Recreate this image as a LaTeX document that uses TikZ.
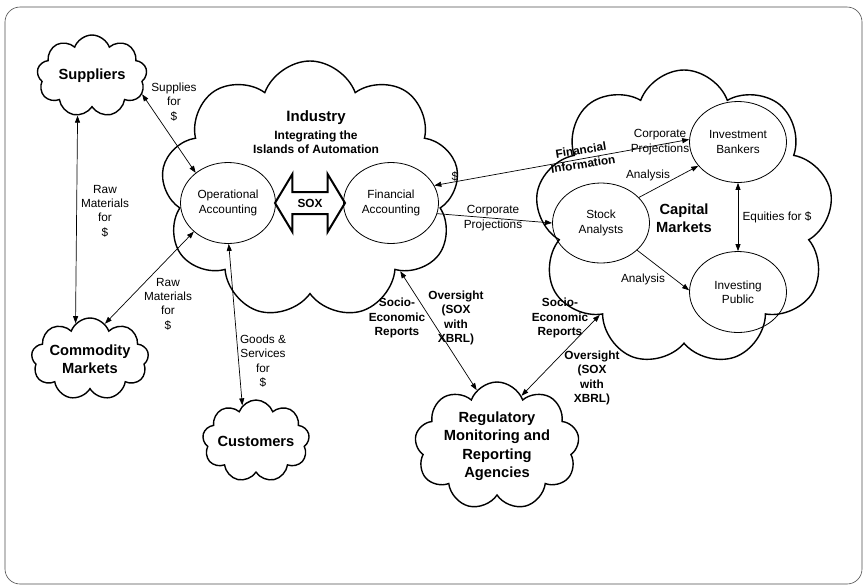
\documentclass[tikz,border=0pt]{standalone}
\usepackage{fontspec}
\setmainfont{Liberation Sans}
\usetikzlibrary{shapes.symbols,shapes.geometric,shapes.arrows,arrows.meta}

\begin{document}
\begin{tikzpicture}[x=1pt,y=-1pt,<->,>={Triangle[length=7pt,width=5pt]},line width=0.7pt,
    cloud node/.style={cloud,draw,line width=1.4pt,cloud puffs=9,cloud puff arc=140,cloud ignores aspect,align=center,inner sep=0pt,font=\bfseries\fontsize{14.7}{18.5}\selectfont},
    unit node/.style={ellipse,draw,line width=0.8pt,inner sep=0pt,align=center,font=\fontsize{11.8}{14.4}\selectfont},
    lbl/.style={align=center,inner sep=0pt,font=\fontsize{11.8}{14.4}\selectfont},
    blbl/.style={align=center,inner sep=0pt,font=\bfseries\fontsize{11.8}{14.4}\selectfont}]

    \useasboundingbox (0,0) rectangle (866,587);
    \draw[-,black!70,line width=0.6pt,rounded corners=15pt] (5,7) rectangle (862,584);

    % clouds
    \node[cloud node,minimum width=110pt,minimum height=82pt] (sup) at (92,76) {Suppliers};
    \node[cloud node,minimum width=115pt,minimum height=82pt] (com) at (90,359) {Commodity\\Markets};
    \node[cloud node,minimum width=107pt,minimum height=82pt] (cust) at (256,441) {Customers};
    \node[cloud node,minimum width=161pt,minimum height=126pt] (reg) at (497,446) {Regulatory\\Monitoring and\\Reporting\\Agencies};
    \node[cloud node,minimum width=298pt,minimum height=258pt] (ind) at (310,190) {};
    \node[cloud node,minimum width=298pt,minimum height=296pt] (cap) at (684,218) {Capital\\Markets};

    \node[font=\bfseries\fontsize{15}{18}\selectfont] (indtitle) at (316,118) {Industry};
    \node[blbl,font=\bfseries\fontsize{12}{14}\selectfont] (indsub) at (316,142) {Integrating the\\Islands of Automation};

    % units inside the clouds
    \node[unit node,minimum width=95pt,minimum height=81pt] (oa) at (228,203) {Operational\\Accounting};
    \node[unit node,minimum width=95pt,minimum height=81pt] (fa) at (391,203) {Financial\\Accounting};
    \node[unit node,minimum width=97pt,minimum height=80pt] (sa) at (601,223) {Stock\\Analysts};
    \node[unit node,minimum width=97pt,minimum height=81pt] (ib) at (738,142) {Investment\\Bankers};
    \node[unit node,minimum width=97pt,minimum height=81pt] (ip) at (738,292) {Investing\\Public};

    \node[double arrow,draw,line width=2pt,minimum height=70pt,double arrow head extend=18pt,
          double arrow tip angle=118,inner xsep=2pt,inner ysep=6pt,text height=8pt,text depth=0pt,
          font=\bfseries\fontsize{11.8}{14}\selectfont] (sox) at (310,203) {SOX};

    % labels
    \node[lbl] (l1) at (174,102) {Supplies\\for\\\$};
    \node[lbl] (l2) at (105,211) {Raw\\Materials\\for\\\$};
    \node[lbl] (l3) at (168,304) {Raw\\Materials\\for\\\$};
    \node[lbl] (l4) at (263,361) {Goods \&\\Services\\for\\\$};
    \node[lbl] (l5) at (493,218) {Corporate\\Projections};
    \node[lbl] (l6) at (455,177) {\$};
    \node[blbl,rotate=9] (l7) at (582,157) {Financial\\Information};
    \node[lbl] (l8) at (660,142) {Corporate\\Projections};
    \node[lbl] (l9) at (648,175) {Analysis};
    \node[lbl] (l10) at (643,279) {Analysis};
    \node[lbl] (l11) at (777,217) {Equities for \$};
    \node[blbl] (l12) at (397,318) {Socio-\\Economic\\Reports};
    \node[blbl] (l13) at (456,318) {Oversight\\(SOX\\with\\XBRL)};
    \node[blbl] (l14) at (560,318) {Socio-\\Economic\\Reports};
    \node[blbl] (l15) at (592,378) {Oversight\\(SOX\\with\\XBRL)};

    % flows
    \path
        (sup.-20) edge (oa.137)
        (sup.-110) edge (com.112)
        (com.67) edge (oa.220)
        (oa.-89) edge (cust.111)
        (fa.22) edge (ib.177)
        (fa.-13) edge[->] (sa.180)
        (sa.34) edge[->] (ib.211)
        (sa.-37) edge[->] (ip.178)
        (ib.-90) edge (ip.90)
        (ind.-42) edge (reg.110)
        (cap.229) edge (reg.64)
        ;
\end{tikzpicture}
\end{document}
